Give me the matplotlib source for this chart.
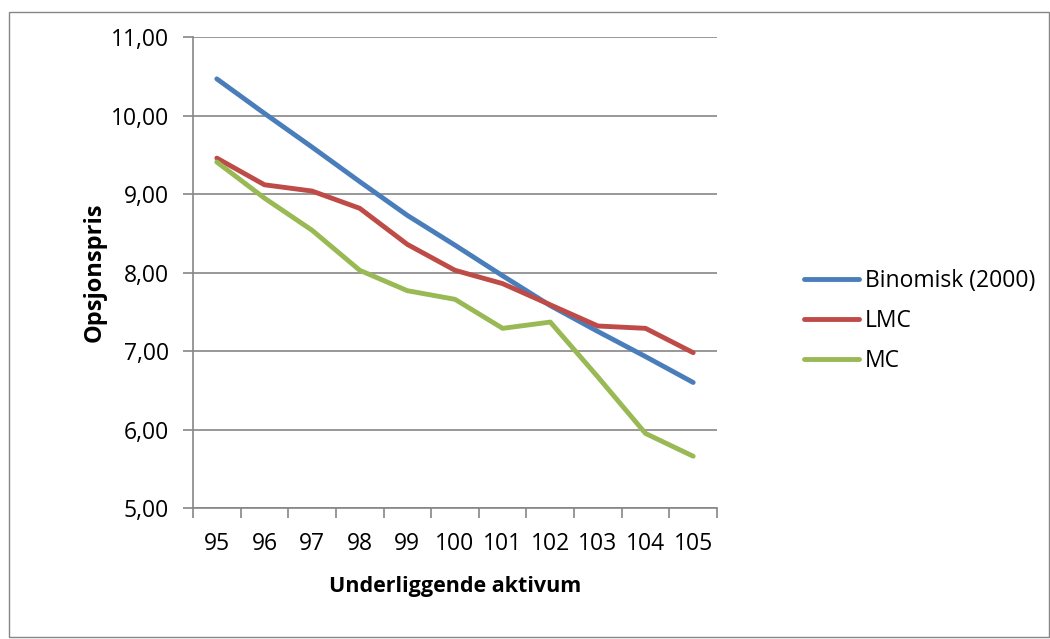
import matplotlib
matplotlib.use("Agg")
import matplotlib.pyplot as plt
from matplotlib.patches import Rectangle
from matplotlib.ticker import FixedLocator, NullFormatter

# Data
strikes = ["95", "96", "97", "98", "99", "100", "101", "102", "103", "104", "105"]
binomisk = [10.47, 10.03, 9.60, 9.16, 8.73, 8.35, 7.96, 7.58, 7.25, 6.93, 6.60]
lmc = [9.46, 9.12, 9.04, 8.82, 8.36, 8.03, 7.86, 7.59, 7.32, 7.29, 6.98]
mc = [9.41, 8.95, 8.54, 8.03, 7.77, 7.66, 7.29, 7.37, 6.67, 5.95, 5.66]
series_names = ["Binomisk (2000)", "LMC", "MC"]
colors = ["#4A7EBB", "#BE4B48", "#98B954"]
yticks = [5, 6, 7, 8, 9, 10, 11]

W, H, DPI = 1050, 639, 100
fig = plt.figure(figsize=(W / DPI, H / DPI), dpi=DPI)
font = "Open Sans"
grey = "#868686"
tick_fs = 16.5

# Chart frame
fig.patches.append(Rectangle((9 / W, 2 / H), 1 - 10 / W, 1 - 14 / H,
                             transform=fig.transFigure, fill=False,
                             edgecolor=grey, linewidth=1.0))

ax = fig.add_axes([193 / W, 1 - 508 / H, (717 - 193) / W, (508 - 37.3) / H])
x = list(range(len(strikes)))
lw = 3.5
for vals, name, c in zip([binomisk, lmc, mc], series_names, colors):
    ax.plot(x, vals, color=c, linewidth=lw, label=name,
            solid_capstyle="round", solid_joinstyle="round", zorder=3)

ax.set_xlim(-0.5, len(strikes) - 0.5)
ax.set_ylim(5, 11)
ax.set_yticks(yticks)
ax.set_yticklabels([f"{v:.2f}".replace(".", ",") for v in yticks],
                   fontsize=tick_fs, fontfamily=font)
ax.yaxis.grid(True, color=grey, linewidth=1.2)
ax.set_axisbelow(True)

# Category ticks on boundaries, labels centred
ax.xaxis.set_major_locator(FixedLocator([i - 0.5 for i in range(len(strikes) + 1)]))
ax.xaxis.set_major_formatter(NullFormatter())
ax.xaxis.set_minor_locator(FixedLocator(x))
ax.set_xticklabels(strikes, minor=True, fontsize=tick_fs, fontfamily=font)
ax.tick_params(axis="x", which="major", length=7, color=grey, width=1.2, direction="out")
ax.tick_params(axis="x", which="minor", length=0, pad=17.5)
ax.tick_params(axis="y", length=7, color=grey, width=1.2, direction="out", pad=10.5)

for s in ["top", "right"]:
    ax.spines[s].set_visible(False)
for s in ["left", "bottom"]:
    ax.spines[s].set_color(grey)
    ax.spines[s].set_linewidth(1.2)

ax.set_xlabel("Underliggende aktivum", fontsize=15.5, fontweight="bold",
              fontfamily=font, labelpad=14)
ax.set_ylabel("Opsjonspris", fontsize=17, fontweight="bold",
              fontfamily=font, labelpad=3)

leg = ax.legend(loc="center left", bbox_to_anchor=(795 / W, 1 - 321 / H),
                bbox_transform=fig.transFigure, frameon=False,
                prop={"family": font, "size": tick_fs}, handlelength=2.4,
                handletextpad=0.26, labelspacing=0.7, borderaxespad=0)

fig.savefig("out.png", dpi=DPI)
